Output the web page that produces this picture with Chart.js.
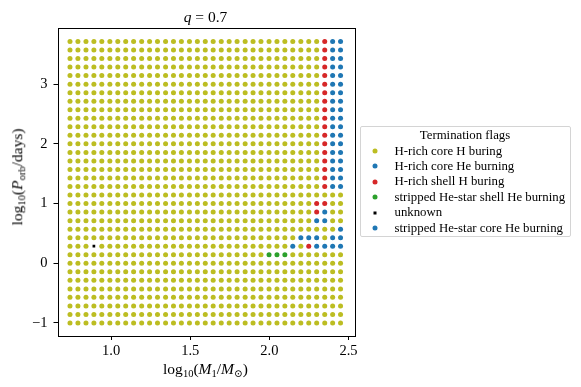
<!DOCTYPE html>
<html>
<head>
<meta charset="utf-8">
<script src="https://cdn.jsdelivr.net/npm/chart.js@4.4.0/dist/chart.umd.min.js"></script>
<style>
  html, body { margin: 0; padding: 0; background: #fff; }
  #wrap { position: relative; width: 581px; height: 387px; font-family: "Liberation Serif", "DejaVu Serif", serif; color: #000; }
  canvas { position: absolute; left: 0; top: 0; }
  .lbl { position: absolute; white-space: nowrap; font-size: 15.5px; line-height: 1; }
  .lbl sub { font-size: 10.5px; vertical-align: -3px; line-height: 0; }
  #legend { position: absolute; left: 359.5px; top: 126px; width: 211px; height: 111px; box-sizing: border-box;
            border: 1px solid #d4d4d4; border-radius: 2px; font-size: 12.8px; }
  #legend .ttl { position: absolute; left: 0; right: 0; top: 1px; text-align: center; }
  #legend .row { position: absolute; left: 0; height: 15px; line-height: 15px; }
  #legend .mk { position: absolute; top: 50%; transform: translate(-50%, -50%); }
  #legend .tx { position: absolute; left: 34px; top: 0; white-space: nowrap; }
</style>
</head>
<body>
<div id="wrap">
  <canvas id="c" width="581" height="387"></canvas>
  <div class="lbl" id="title" style="left:205.5px; top:17px; transform:translate(-50%,-50%);"><i>q</i> = 0.7</div>
  <div class="lbl" id="xlab" style="left:205.5px; top:369px; transform:translate(-50%,-50%);">log<sub>10</sub>(<i>M</i><sub>1</sub>/<i>M</i><sub>⊙</sub>)</div>
  <div class="lbl" id="ylab" style="left:17px; top:177px; transform:translate(-50%,-50%) rotate(-90deg);">log<sub>10</sub>(<i>P</i><sub>orb</sub>/days)</div>
  <div id="legend"></div>
</div>
<script>
// ---- data ----
const massGrid = [0.740, 0.790, 0.841, 0.891, 0.941, 0.992, 1.042, 1.092, 1.142, 1.193,
                  1.243, 1.293, 1.344, 1.394, 1.444, 1.495, 1.545, 1.595, 1.645, 1.696,
                  1.746, 1.796, 1.847, 1.897, 1.947, 1.998, 2.048, 2.098, 2.148, 2.199,
                  2.249, 2.299, 2.350, 2.400, 2.450];
const periodGrid = [-1.000, -0.857, -0.714, -0.571, -0.429, -0.286, -0.143, 0.000, 0.143, 0.286,
                    0.429, 0.571, 0.714, 0.857, 1.000, 1.143, 1.286, 1.429, 1.571, 1.714,
                    1.857, 2.000, 2.143, 2.286, 2.429, 2.571, 2.714, 2.857, 3.000, 3.143,
                    3.286, 3.429, 3.571, 3.714];
// flag per grid cell, one string per period row (top row first), one char per mass column
// Y: H-rich core H buring, C: H-rich core He burning, R: H-rich shell H buring,
// G: stripped He-star shell He burning, U: unknown, S: stripped He-star core He burning
const flagRows = [
  "YYYYY YYYYY YYYYY YYYYY YYYYY YYYYY YYRCC", // 3.714
  "YYYYY YYYYY YYYYY YYYYY YYYYY YYYYY YYRCC",
  "YYYYY YYYYY YYYYY YYYYY YYYYY YYYYY YYRCC",
  "YYYYY YYYYY YYYYY YYYYY YYYYY YYYYY YYRCC",
  "YYYYY YYYYY YYYYY YYYYY YYYYY YYYYY YYRCC",
  "YYYYY YYYYY YYYYY YYYYY YYYYY YYYYY YYRCC", // 3.000
  "YYYYY YYYYY YYYYY YYYYY YYYYY YYYYY YYRCC",
  "YYYYY YYYYY YYYYY YYYYY YYYYY YYYYY YYRCC",
  "YYYYY YYYYY YYYYY YYYYY YYYYY YYYYY YYRCC",
  "YYYYY YYYYY YYYYY YYYYY YYYYY YYYYY YYRCC",
  "YYYYY YYYYY YYYYY YYYYY YYYYY YYYYY YYRCC",
  "YYYYY YYYYY YYYYY YYYYY YYYYY YYYYY YYRCC",
  "YYYYY YYYYY YYYYY YYYYY YYYYY YYYYY YYRCC", // 2.000
  "YYYYY YYYYY YYYYY YYYYY YYYYY YYYYY YYRCC",
  "YYYYY YYYYY YYYYY YYYYY YYYYY YYYYY YYRCC",
  "YYYYY YYYYY YYYYY YYYYY YYYYY YYYYY YYRCC",
  "YYYYY YYYYY YYYYY YYYYY YYYYY YYYYY YYRCC",
  "YYYYY YYYYY YYYYY YYYYY YYYYY YYYYY YYRCC",
  "YYYYY YYYYY YYYYY YYYYY YYYYY YYYYY YYYYY", // 1.143
  "YYYYY YYYYY YYYYY YYYYY YYYYY YYYYY YRRYY", // 1.000
  "YYYYY YYYYY YYYYY YYYYY YYYYY YYYYY YRSYY",
  "YYYYY YYYYY YYYYY YYYYY YYYYY YYYYY YSSYY",
  "YYYYY YYYYY YYYYY YYYYY YYYYY YYYYY YYYYS",
  "YYYYY YYYYY YYYYY YYYYY YYYYY YYYYS SSYSS",
  "YYYUY YYYYY YYYYY YYYYY YYYYY YYYSY RSSSS",
  "YYYYY YYYYY YYYYY YYYYY YYYYY GGGYY YYYYY",
  "YYYYY YYYYY YYYYY YYYYY YYYYY YYYYY YYYYY", // 0.000
  "YYYYY YYYYY YYYYY YYYYY YYYYY YYYYY YYYYY",
  "YYYYY YYYYY YYYYY YYYYY YYYYY YYYYY YYYYY",
  "YYYYY YYYYY YYYYY YYYYY YYYYY YYYYY YYYYY",
  "YYYYY YYYYY YYYYY YYYYY YYYYY YYYYY YYYYY",
  "YYYYY YYYYY YYYYY YYYYY YYYYY YYYYY YYYYY",
  "YYYYY YYYYY YYYYY YYYYY YYYYY YYYYY YYYYY",
  "YYYYY YYYYY YYYYY YYYYY YYYYY YYYYY YYYYY"  // -1.000
];
const flagCodes = ["Y", "C", "R", "G", "U", "S"];
const flagNames = ["H-rich core H buring", "H-rich core He burning", "H-rich shell H buring",
                   "stripped He-star shell He burning", "unknown", "stripped He-star core He burning"];
const flagColors = ["#bcbd22", "#1f77b4", "#d62728", "#2ca02c", "#000000", "#1f77b4"];
const xTicks = [1.0, 1.5, 2.0, 2.5];
const yTicks = [-1, 0, 1, 2, 3];

// ---- build datasets from the grid ----
const datasets = flagCodes.map((code, k) => {
  const pts = [];
  flagRows.forEach((rowStr, r) => {
    const cells = rowStr.replace(/ /g, "");
    const y = periodGrid[periodGrid.length - 1 - r];
    for (let i = 0; i < cells.length; i++) {
      if (cells[i] === code) pts.push({ x: massGrid[i], y: y });
    }
  });
  const isUnknown = code === "U";
  return {
    label: flagNames[k],
    data: pts,
    backgroundColor: flagColors[k],
    borderWidth: 0,
    pointStyle: isUnknown ? "rect" : "circle",
    pointRadius: isUnknown ? 1.9 : 2.5,
    pointHoverRadius: isUnknown ? 1.9 : 2.5
  };
});

const frame = {
  id: "frame",
  afterDraw(chart) {
    const a = chart.chartArea, ctx = chart.ctx;
    ctx.save();
    ctx.strokeStyle = "#000";
    ctx.lineWidth = 1;
    ctx.strokeRect(Math.round(a.left) + 0.5, Math.round(a.top) + 0.5,
                   Math.round(a.right - a.left), Math.round(a.bottom - a.top));
    ctx.restore();
  }
};

const tickFont = { family: "'Liberation Serif', 'DejaVu Serif', serif", size: 14.5 };

new Chart(document.getElementById("c"), {
  type: "scatter",
  data: { datasets },
  options: {
    responsive: false,
    animation: false,
    devicePixelRatio: 1,
    layout: { padding: { left: 0, top: 28, right: 227, bottom: 0 } },
    plugins: { legend: { display: false }, tooltip: { enabled: false }, title: { display: false } },
    scales: {
      x: {
        type: "linear", min: 0.661, max: 2.535,
        afterBuildTicks: s => { s.ticks = xTicks.map(v => ({ value: v })); },
        afterFit: s => { s.height = 51; },
        border: { display: false },
        grid: { drawOnChartArea: false, drawTicks: true, tickLength: 4, color: "#000", lineWidth: 1 },
        ticks: { color: "#000", font: tickFont, padding: 2, maxRotation: 0,
                 callback: v => v.toFixed(1) }
      },
      y: {
        type: "linear", min: -1.218, max: 3.94,
        afterBuildTicks: s => { s.ticks = yTicks.map(v => ({ value: v })); },
        afterFit: s => { s.width = 57.5; },
        border: { display: false },
        grid: { drawOnChartArea: false, drawTicks: true, tickLength: 4, color: "#000", lineWidth: 1 },
        ticks: { color: "#000", font: tickFont, padding: 6,
                 callback: v => (v < 0 ? "\u2212" + Math.abs(v) : String(v)) }
      }
    }
  },
  plugins: [frame]
});

// ---- legend (HTML, from datasets) ----
const leg = document.getElementById("legend");
const ttl = document.createElement("div");
ttl.className = "ttl";
ttl.textContent = "Termination flags";
leg.appendChild(ttl);
datasets.forEach((ds, i) => {
  const row = document.createElement("div");
  row.className = "row";
  row.style.top = (16.5 + i * 15.4) + "px";
  row.style.width = "100%";
  const mk = document.createElement("span");
  mk.className = "mk";
  mk.style.left = "14px";
  const sz = ds.pointStyle === "rect" ? 3 : 5;
  mk.style.width = sz + "px";
  mk.style.height = sz + "px";
  mk.style.background = ds.backgroundColor;
  mk.style.borderRadius = ds.pointStyle === "rect" ? "0" : "50%";
  const tx = document.createElement("span");
  tx.className = "tx";
  tx.textContent = ds.label;
  row.appendChild(mk);
  row.appendChild(tx);
  leg.appendChild(row);
});
</script>
</body>
</html>
